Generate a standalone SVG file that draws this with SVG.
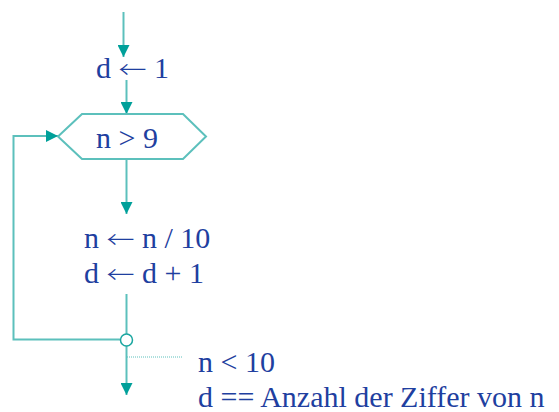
<svg xmlns="http://www.w3.org/2000/svg" width="559" height="412" viewBox="0 0 559 412">
  <style>
    .flow { fill: none; stroke: #5cc0bc; stroke-width: 2; }
    .dot { fill: none; stroke: #5cc0bc; stroke-width: 1; stroke-dasharray: 1 1; }
    .lbl { font-family: "Liberation Serif", "Times New Roman", serif; font-size: 30px; fill: #1f3fa0; }
    .arr { font-family: "Noto Sans CJK SC", sans-serif; font-size: 23px; font-weight: 300; }
  </style>
  <defs>
    <marker id="head" viewBox="0 0 10 10" refX="10" refY="5" markerWidth="6" markerHeight="6" markerUnits="strokeWidth" orient="auto">
      <path d="M0,0 L10,5 L0,10 Z" fill="#00a09a"/>
    </marker>
  </defs>
  <rect width="559" height="412" fill="#ffffff"/>

  <g id="connectors">
    <line class="flow" x1="123.5" y1="12" x2="123.5" y2="57" marker-end="url(#head)"/>
    <line class="flow" x1="126.5" y1="80" x2="126.5" y2="114" marker-end="url(#head)"/>
    <line class="flow" x1="126.5" y1="159" x2="126.5" y2="214" marker-end="url(#head)"/>
    <line class="flow" x1="126.5" y1="294" x2="126.5" y2="334"/>
    <polyline class="flow" points="120.5,339.5 13.5,339.5 13.5,136 58,136" marker-end="url(#head)"/>
    <line class="flow" x1="126.5" y1="346" x2="126.5" y2="395" marker-end="url(#head)"/>
    <line class="dot" x1="127" y1="357" x2="182" y2="357"/>
  </g>

  <g id="init">
    <text class="lbl" x="96" y="78">d <tspan class="arr" textLength="28" lengthAdjust="spacingAndGlyphs">←</tspan> 1</text>
  </g>

  <g id="loop-test">
    <polygon class="flow" points="58,136.5 82,114 183,114 206,136.5 183,159 82,159" stroke-width="1.5"/>
    <text class="lbl" x="96" y="148">n &gt; 9</text>
  </g>

  <g id="body">
    <text class="lbl" x="84" y="248">n <tspan class="arr" textLength="28" lengthAdjust="spacingAndGlyphs">←</tspan> n / 10</text>
    <text class="lbl" x="84" y="283">d <tspan class="arr" textLength="28" lengthAdjust="spacingAndGlyphs">←</tspan> d + 1</text>
  </g>

  <g id="join">
    <circle cx="126.5" cy="340" r="6" fill="#ffffff" stroke="#1aa6a0" stroke-width="1.5"/>
  </g>

  <g id="postcondition">
    <text class="lbl" x="198" y="372">n &lt; 10</text>
    <text class="lbl" x="198" y="407">d == Anzahl der Ziffer von n</text>
  </g>
</svg>
